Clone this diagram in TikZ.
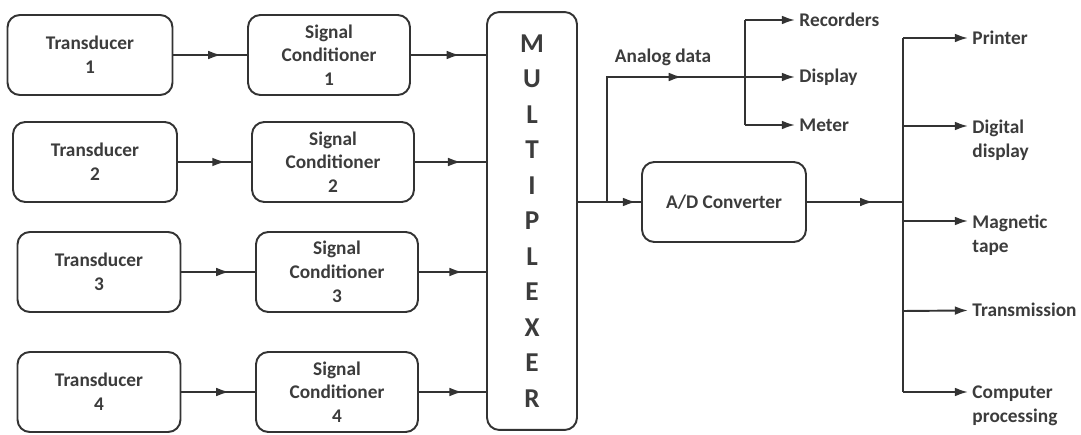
\documentclass[tikz,border=0pt]{standalone}
\usepackage{fontspec}
\setmainfont{Carlito}
\usetikzlibrary{arrows.meta,decorations.markings}
\definecolor{linegray}{HTML}{333333}
\definecolor{textgray}{HTML}{3C3C3C}

\begin{document}
\begin{tikzpicture}[x=0.02cm,y=-0.02cm,
    line width=1.1pt, draw=linegray,
    >={Latex[length=7.5pt,width=5pt]},
    every node/.style={text=textgray, font=\fontsize{11}{13.5}\selectfont\bfseries},
    block/.style={draw=linegray, rounded corners=7pt, align=center, minimum height=1.6cm},
    lbl/.style={inner xsep=2pt, inner ysep=0pt, align=left},
    midarrow/.style={postaction={decorate},
        decoration={markings, mark=at position #1 with {\arrow{Latex[length=7.5pt,width=5pt]}}}},
    midarrow/.default=0.65]

    \useasboundingbox (0,0) rectangle (1081,435);

    % Draw transducers
    \node[block, minimum width=3.3cm] (t1) at (90,55) {Transducer\\1};
    \node[block, minimum width=3.28cm] (t2) at (95,162) {Transducer\\2};
    \node[block, minimum width=3.26cm] (t3) at (99,272) {Transducer\\3};
    \node[block, minimum width=3.26cm] (t4) at (99,392) {Transducer\\4};

    % Draw signal conditioners
    \node[block, minimum width=3.24cm] (s1) at (329,55) {Signal\\Conditioner\\1};
    \node[block, minimum width=3.24cm] (s2) at (333,162) {Signal\\Conditioner\\2};
    \node[block, minimum width=3.24cm] (s3) at (337,272) {Signal\\Conditioner\\3};
    \node[block, minimum width=3.24cm] (s4) at (337,392) {Signal\\Conditioner\\4};

    % Multiplexer and converter
    \node[block, minimum width=1.8cm, minimum height=8.36cm,
          font=\fontsize{15.5}{20.2}\selectfont\bfseries] (mux) at (532,221)
          {M\\U\\L\\T\\I\\P\\L\\E\\X\\E\\R};
    \node[block, minimum width=3.28cm] (adc) at (724,202) {A/D Converter};

    % Transducer to conditioner to multiplexer
    \draw[midarrow] (t1) -- (s1);
    \draw[midarrow] (t2) -- (s2);
    \draw[midarrow] (t3) -- (s3);
    \draw[midarrow] (t4) -- (s4);
    \draw[midarrow] (s1.east) -- (mux.west |- s1.east);
    \draw[midarrow] (s2.east) -- (mux.west |- s2.east);
    \draw[midarrow] (s3.east) -- (mux.west |- s3.east);
    \draw[midarrow] (s4.east) -- (mux.west |- s4.east);

    % Multiplexer output
    \coordinate (br) at (607,202);
    \coordinate (ab) at (745,77);
    \draw[midarrow=0.92] (mux.east |- adc.west) -- (adc.west);
    \draw[midarrow=0.76] (br) |- (ab);
    \node at (663,57) {Analog data};

    % Analog outputs
    \node[lbl, anchor=west] (rec) at (795,20) {Recorders};
    \node[lbl, anchor=west] (disp) at (795,77) {Display};
    \node[lbl, anchor=west] (met) at (795,125) {Meter};
    \draw (ab |- rec) -- (ab |- met);
    \draw[->] (ab |- rec) -- (rec);
    \draw[->] (ab) -- (disp);
    \draw[->] (ab |- met) -- (met);

    % Digital outputs
    \coordinate (db) at (903,202);
    \draw[midarrow=0.69] (adc.east) -- (db);
    \node[lbl, anchor=west] (prn) at (968,38) {Printer};
    \node[lbl, anchor=north west] (dig) at (968,119) {Digital\\display};
    \node[lbl, anchor=north west] (mag) at (968,214) {Magnetic\\tape};
    \node[lbl, anchor=west] (trn) at (968,310) {Transmission};
    \node[lbl, anchor=north west] (cmp) at (968,385) {Computer\\processing};
    \coordinate (jp) at (903,38);
    \coordinate (jd) at (903,126);
    \coordinate (jm) at (903,221);
    \coordinate (jt) at (903,311);
    \coordinate (jc) at (903,392);
    \draw (jp) -- (jc);
    \draw[->] (jp) -- (prn);
    \draw[->] (jd) -- (jd -| dig.west);
    \draw[->] (jm) -- (jm -| mag.west);
    \draw[->] (jt) -- (trn);
    \draw[->] (jc) -- (jc -| cmp.west);
\end{tikzpicture}
\end{document}
